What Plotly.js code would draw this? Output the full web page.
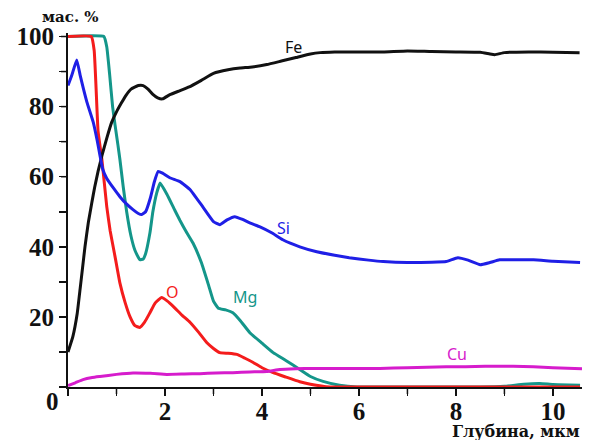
<!DOCTYPE html>
<html>
<head>
<meta charset="utf-8">
<script src="https://cdn.plot.ly/plotly-3.0.1.min.js"></script>
<style>
  html, body { margin: 0; padding: 0; background: #fff; }
  #chart { width: 591px; height: 440px; }
</style>
</head>
<body>
<div id="chart"></div>
<script>
// Depth profiles of element content (mass %) versus depth (µm)

const feDepth = [0, 0.1, 0.19, 0.25, 0.3, 0.35, 0.42, 0.49, 0.55, 0.62, 0.7, 0.8, 0.9, 1.0, 1.1, 1.2, 1.3, 1.45, 1.55, 1.65, 1.75, 1.85, 1.95, 2.1, 2.3, 2.5, 2.75, 3.0, 3.3, 3.55, 3.8, 4.1, 4.4, 4.7, 5.0, 5.2, 5.5, 6.0, 6.5, 7.0, 7.5, 8.0, 8.5, 8.7, 8.8, 9.0, 9.5, 10.0, 10.55];
const feValues = [10, 14.4, 21, 28, 34, 40, 47, 52.5, 57, 61.5, 66, 71, 75.5, 78.5, 81, 83.3, 85, 86, 86, 85, 83.5, 82.5, 82.2, 83.4, 84.5, 85.6, 87.5, 89.5, 90.5, 91, 91.3, 92, 93, 94, 95, 95.4, 95.6, 95.6, 95.6, 95.9, 95.7, 95.6, 95.5, 95, 94.8, 95.4, 95.6, 95.5, 95.4];

const siDepth = [0, 0.08, 0.18, 0.25, 0.32, 0.39, 0.52, 0.6, 0.66, 0.72, 0.8, 0.95, 1.07, 1.2, 1.34, 1.45, 1.52, 1.6, 1.7, 1.78, 1.86, 1.95, 2.1, 2.31, 2.52, 2.78, 3.0, 3.13, 3.28, 3.44, 3.6, 3.75, 3.96, 4.2, 4.43, 4.78, 5.13, 5.5, 5.8, 6.2, 6.5, 7.0, 7.5, 7.8, 8.04, 8.25, 8.5, 8.7, 8.9, 9.2, 9.6, 10.0, 10.56];
const siValues = [86, 89, 93.3, 89, 85, 81.3, 75.6, 70.5, 66, 62, 59.5, 56.5, 54.3, 52.3, 50.6, 49.5, 49.2, 50, 54, 58.5, 61.5, 61, 59.7, 58.6, 56.3, 51.4, 47.2, 46.3, 47.7, 48.6, 47.8, 46.8, 45.7, 44, 42, 40, 38.6, 37.6, 36.9, 36.2, 35.8, 35.5, 35.6, 35.8, 36.9, 36.2, 34.9, 35.5, 36.3, 36.3, 36.3, 35.9, 35.5];

const mgDepth = [0, 0.74, 0.8, 0.86, 0.92, 0.97, 1.03, 1.07, 1.14, 1.21, 1.3, 1.38, 1.48, 1.55, 1.6, 1.69, 1.75, 1.83, 1.9, 2.04, 2.2, 2.31, 2.45, 2.58, 2.75, 2.9, 3.0, 3.1, 3.25, 3.4, 3.55, 3.75, 4.0, 4.23, 4.5, 4.78, 5.0, 5.26, 5.6, 5.96, 6.5, 7.0, 7.5, 8.0, 8.5, 9.0, 9.4, 9.73, 10.0, 10.56];
const mgValues = [100, 100, 97, 89, 80, 74.8, 69, 65, 57, 50, 43, 39, 36.3, 36.5, 38, 44, 50, 55.4, 58.2, 55, 50.5, 47.5, 44, 41, 35.5, 29, 24.5, 22.5, 22, 21.2, 19, 15.5, 12.5, 9.8, 7.5, 5, 3, 1.6, 0.5, 0, 0, 0, 0, 0, 0, 0.2, 0.8, 1, 0.7, 0.5];

const oDepth = [0, 0.48, 0.54, 0.58, 0.62, 0.7, 0.8, 0.87, 0.97, 1.07, 1.18, 1.28, 1.38, 1.48, 1.58, 1.69, 1.8, 1.93, 2.05, 2.17, 2.35, 2.52, 2.7, 2.86, 3.0, 3.13, 3.3, 3.48, 3.65, 3.82, 4.0, 4.23, 4.5, 4.78, 5.0, 5.4, 6.0, 7.0, 8.0, 9.0, 10.56];
const oValues = [100, 100, 96, 85, 73, 64.8, 51.4, 44.5, 37.2, 29.7, 24, 20, 17.5, 17, 18.5, 21.2, 24, 25.5, 24.5, 23, 20.5, 18.4, 15.5, 12.7, 11, 9.8, 9.6, 9.3, 8.2, 7, 5.5, 4.1, 2.8, 1.5, 0.8, 0, 0, 0, 0, 0, 0];

const cuDepth = [0, 0.15, 0.31, 0.5, 0.66, 1.0, 1.34, 1.7, 2.04, 2.4, 2.72, 3.05, 3.4, 3.75, 4.1, 4.37, 4.7, 5.05, 5.5, 6.0, 6.43, 7.0, 7.4, 7.8, 8.2, 8.6, 9.18, 9.6, 10.0, 10.6];
const cuValues = [0.4, 1.2, 2.1, 2.7, 3.0, 3.6, 4.0, 3.9, 3.6, 3.7, 3.8, 4.0, 4.1, 4.3, 4.4, 5.0, 5.2, 5.3, 5.3, 5.3, 5.3, 5.5, 5.6, 5.8, 5.8, 5.9, 5.9, 5.8, 5.5, 5.2];

// tick marks at every integer / every 10 %, labels only on the even ones
const xTickVals = [0, 1, 2, 3, 4, 5, 6, 7, 8, 9, 10];
const xTickText = ['', '', '2', '', '4', '', '6', '', '8', '', '10'];
const yTickVals = [0, 10, 20, 30, 40, 50, 60, 70, 80, 90, 100];
const yTickText = ['', '', '20', '', '40', '', '60', '', '80', '', '100'];

const xRange = [0, 10.6];
const yRange = [0, 101];

const seriesNames = ['Mg', 'O', 'Fe', 'Si', 'Cu'];
const seriesColors = ['#14968a', '#f41c1c', '#111111', '#1f1fe6', '#d61ccc'];

const depths = [mgDepth, oDepth, feDepth, siDepth, cuDepth];
const values = [mgValues, oValues, feValues, siValues, cuValues];

const traces = seriesNames.map((name, i) => ({
  type: 'scatter',
  mode: 'lines',
  name: name,
  x: depths[i],
  y: values[i],
  line: { color: seriesColors[i], width: 3, shape: 'spline', smoothing: 0.35 },
  hoverinfo: 'x+y+name'
}));

const serif = 'Liberation Serif, Times New Roman, serif';
const wideSerif = 'DejaVu Serif, Liberation Serif, serif';
const tickFont = { family: serif, size: 25, color: '#111', weight: 'bold' };
const labelFont = { family: 'Noto Sans, Open Sans, sans-serif', size: 16 };

function axisStyle(extra) {
  return Object.assign({
    tickmode: 'array',
    ticks: 'outside',
    ticklen: 7,
    tickwidth: 1.5,
    tickcolor: '#111',
    showline: true,
    linecolor: '#111',
    linewidth: 2,
    showgrid: false,
    zeroline: false,
    tickfont: tickFont
  }, extra);
}

// outward tick marks also laid down as shapes, at the same fractions of the axis span
const frac = (v, r) => (v - r[0]) / (r[1] - r[0]);
const tickLine = { color: '#111', width: 1.5 };
const xTickMarks = xTickVals.map(v => ({
  type: 'line', layer: 'above', xref: 'paper', yref: 'paper',
  x0: frac(v, xRange), x1: frac(v, xRange), ysizemode: 'pixel', yanchor: 0, y0: 0, y1: -7, line: tickLine
}));
const yTickMarks = yTickVals.map(v => ({
  type: 'line', layer: 'above', xref: 'paper', yref: 'paper',
  y0: frac(v, yRange), y1: frac(v, yRange), xsizemode: 'pixel', xanchor: 0, x0: -7, x1: 0, line: tickLine
}));

const layout = {
  width: 591,
  height: 440,
  margin: { l: 68, r: 9, t: 33, b: 52.5 },
  paper_bgcolor: '#ffffff',
  plot_bgcolor: '#ffffff',
  showlegend: false,
  xaxis: axisStyle({ range: xRange, tickvals: xTickVals, ticktext: xTickText, ticklabelstandoff: -6 }),
  yaxis: axisStyle({ range: yRange, tickvals: yTickVals, ticktext: yTickText }),
  shapes: xTickMarks.concat(yTickMarks),
  annotations: [
    { text: 'Fe', x: 4.64, y: 97, xref: 'x', yref: 'y', showarrow: false, font: Object.assign({}, labelFont, { color: '#111' }) },
    { text: 'Si', x: 4.45, y: 45.4, xref: 'x', yref: 'y', showarrow: false, font: Object.assign({}, labelFont, { color: '#1f1fe6' }) },
    { text: 'Mg', x: 3.65, y: 25.8, xref: 'x', yref: 'y', showarrow: false, font: Object.assign({}, labelFont, { color: '#14968a' }) },
    { text: 'O', x: 2.16, y: 27.2, xref: 'x', yref: 'y', showarrow: false, font: Object.assign({}, labelFont, { color: '#f41c1c' }) },
    { text: 'Cu', x: 8.02, y: 9.3, xref: 'x', yref: 'y', showarrow: false, font: Object.assign({}, labelFont, { color: '#d61ccc' }) },
    { text: 'Глубина, мкм', x: 1.0, y: -0.126, xref: 'paper', yref: 'paper', xanchor: 'right', yanchor: 'middle', showarrow: false,
      font: { family: wideSerif, size: 16, color: '#111', weight: 'bold' } },
    { text: 'мас. %', x: -0.054, y: 1.045, xref: 'paper', yref: 'paper', xanchor: 'left', yanchor: 'middle', showarrow: false,
      font: { family: wideSerif, size: 15, color: '#111', weight: 'bold' } },
    { text: '0', x: -0.031, y: -0.041, xref: 'paper', yref: 'paper', xanchor: 'center', yanchor: 'middle', showarrow: false, font: tickFont }
  ]
};

Plotly.newPlot('chart', traces, layout, { displayModeBar: false, staticPlot: true });
</script>
</body>
</html>
